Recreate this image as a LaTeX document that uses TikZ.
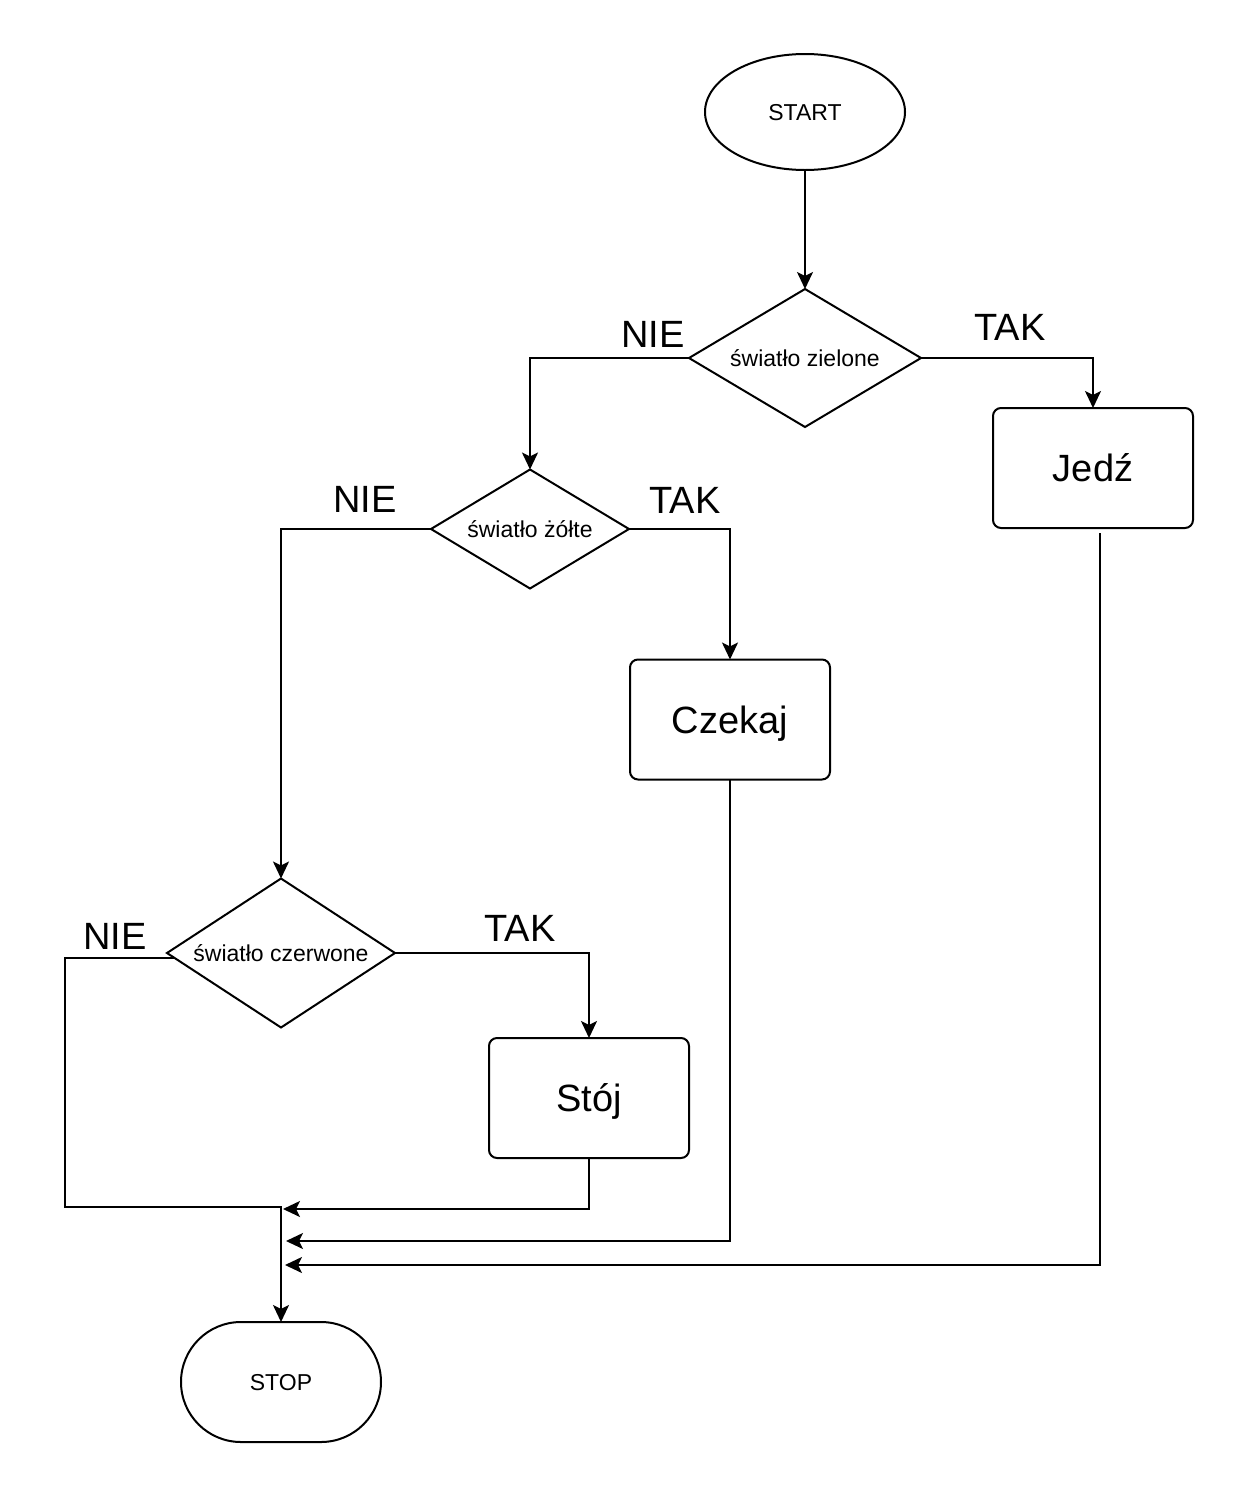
\documentclass[tikz,border=0pt]{standalone}
\usepackage{fontspec}
\setmainfont{Liberation Sans}
\usetikzlibrary{shapes.geometric,arrows.meta,calc}
\tikzset{
  every node/.style={inner sep=0pt, outer sep=0pt},
  base/.style={draw=black, line width=2pt, fill=white},
  small/.style={font=\fontsize{23}{27}\selectfont, text height=16.5pt, text depth=0pt},
  big/.style={font=\fontsize{38}{44}\selectfont, text height=27pt, text depth=0pt},
  termE/.style={base, small, ellipse, minimum width=200pt, minimum height=116pt},
  termS/.style={base, small, rectangle, rounded corners=60pt, minimum width=200pt, minimum height=120pt},
  decision/.style={base, small, diamond},
  action/.style={base, big, rectangle, rounded corners=8pt, minimum width=200pt, minimum height=120pt},
  lbl/.style={big},
  arr/.style={draw=black, line width=2pt, -{Stealth[length=17pt, width=16pt, inset=4pt]}},
}
\begin{document}
\begin{tikzpicture}[x=1pt, y=-1pt]
\fill[white] (0,0) rectangle (1244,1494);
\useasboundingbox (0,0) rectangle (1244,1494);

\node[termE] (start) at (805,112) {START};
\node[decision, aspect=1.68, minimum width=232pt, minimum height=138pt] (d1) at (805,358) {światło zielone};
\node[action] (jedz) at (1093,468) {Jedź};
\node[decision, aspect=1.66, minimum width=198pt, minimum height=119pt] (d2) at (530,529) {światło żółte};
\node[action] (czekaj) at (730,719.5) {Czekaj};
\node[decision, aspect=1.53, minimum width=228pt, minimum height=149pt] (d3) at (281,953) {światło czerwone};
\node[action] (stoj) at (589,1098) {Stój};
\node[termS] (stop) at (281,1382) {STOP};

\node[lbl] (nie1) at (653,334) {NIE};
\node[lbl] (tak1) at (1010,327) {TAK};
\node[lbl] (nie2) at (365,499) {NIE};
\node[lbl] (tak2) at (685,500) {TAK};
\node[lbl] (nie3) at (115,936) {NIE};
\node[lbl] (tak3) at (520,928) {TAK};

\coordinate (lc) at (65,1207);
\coordinate (m) at (281,1207);
\coordinate (m1) at (283,1209);
\coordinate (m2) at (286,1241);
\coordinate (m3) at (285,1265);

\draw[arr] (start) -- (d1);
\draw[arr] (d1.east) -| (jedz.north);
\draw[arr] (d1.west) -| (d2.north);
\draw[arr] (d2.east) -| (czekaj.north);
\draw[arr] (d2.west) -| (d3.north);
\draw[arr] (d3.east) -| (stoj.north);
\draw[arr] ([xshift=7pt,yshift=-5pt]d3.west) -| (lc) -- (m) -- (stop.north);
\draw[arr] (stoj.south) |- (m1);
\draw[arr] (czekaj.south) |- (m2);
\draw[arr] ([xshift=7pt,yshift=-5pt]jedz.south) |- (m3);
\end{tikzpicture}
\end{document}
